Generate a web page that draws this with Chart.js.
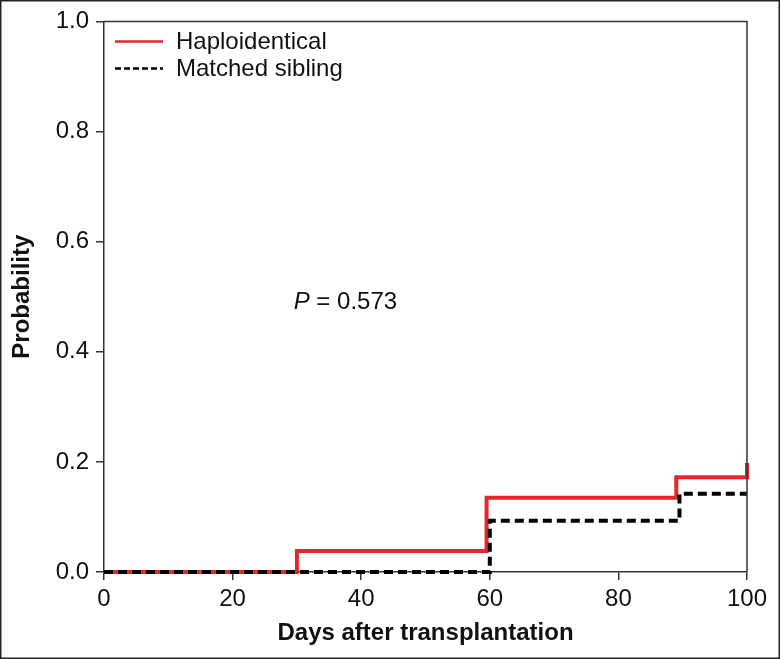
<!DOCTYPE html>
<html>
<head>
<meta charset="utf-8">
<script src="https://cdn.jsdelivr.net/npm/chart.js@4.4.1/dist/chart.umd.min.js"></script>
<style>
  html, body { margin: 0; padding: 0; background: #fff; }
  #wrap { width: 780px; height: 659px; position: relative; }
</style>
</head>
<body>
<div id="wrap"><canvas id="chart" width="780" height="659"></canvas></div>
<script>
// step points (day, probability)
const haploDays = [0, 30, 59.5, 89, 100];
const haploProb = [0, 0.038, 0.135, 0.172, 0.198];
const siblingDays = [0, 60, 89.5, 100];
const siblingProb = [0, 0.093, 0.142, 0.142];
const xTicks = [0, 20, 40, 60, 80, 100];
const yTicks = [0, 0.2, 0.4, 0.6, 0.8, 1.0];
const pLabel = "0.573";

const FONT = "'Liberation Sans', Arial, sans-serif";

function toPoints(xs, ys) {
  return xs.map((x, i) => ({ x: x, y: ys[i] }));
}

const extras = {
  id: "extras",
  afterDraw(chart) {
    const ctx = chart.ctx;
    const a = chart.chartArea;
    const xs = chart.scales.x;
    const ys = chart.scales.y;
    ctx.save();

    // plot box (top + right)
    ctx.strokeStyle = "#333";
    ctx.lineWidth = 1.5;
    ctx.beginPath();
    ctx.moveTo(a.left, a.top);
    ctx.lineTo(a.right, a.top);
    ctx.lineTo(a.right, a.bottom);
    ctx.stroke();

    // outer frame of the figure
    ctx.strokeStyle = "#222";
    ctx.strokeRect(0.75, 0.75, chart.width - 1.5, chart.height - 1.5);

    // legend
    const ds = chart.data.datasets;
    const legendStyles = [
      { color: "#e3272b", dash: [], width: 2.5 },
      { color: "#000", dash: [6, 3], width: 2.5 }
    ];
    ctx.font = "24px " + FONT;
    ctx.textBaseline = "middle";
    ctx.textAlign = "left";
    ds.forEach((d, i) => {
      const y = a.top + 20 + i * 27;
      const st = legendStyles[i];
      ctx.strokeStyle = st.color;
      ctx.lineWidth = st.width;
      ctx.setLineDash(st.dash);
      ctx.beginPath();
      ctx.moveTo(a.left + 11, y);
      ctx.lineTo(a.left + 59, y);
      ctx.stroke();
      ctx.setLineDash([]);
      ctx.fillStyle = "#111";
      ctx.fillText(d.label, a.left + 72, y + 1);
    });

    // P value annotation
    const px = xs.getPixelForValue(29.5);
    const py = ys.getPixelForValue(0.49);
    ctx.font = "italic 24px " + FONT;
    ctx.fillStyle = "#111";
    ctx.fillText("P", px, py);
    const w = ctx.measureText("P").width;
    ctx.font = "24px " + FONT;
    ctx.fillText(" = " + pLabel, px + w, py);

    ctx.restore();
  }
};

new Chart(document.getElementById("chart").getContext("2d"), {
  type: "line",
  data: {
    datasets: [
      {
        label: "Haploidentical",
        data: toPoints(haploDays, haploProb),
        borderColor: "#e3272b",
        borderWidth: 4,
        stepped: true,
        pointRadius: 0,
        fill: false,
        clip: false,
        order: 1
      },
      {
        label: "Matched sibling",
        data: toPoints(siblingDays, siblingProb),
        borderColor: "#000",
        borderWidth: 4,
        borderDash: [9, 5],
        stepped: true,
        pointRadius: 0,
        fill: false,
        clip: false,
        order: 0
      }
    ]
  },
  options: {
    responsive: false,
    animation: false,
    layout: { padding: { left: 0, top: 21, right: 33, bottom: 0 } },
    plugins: {
      legend: { display: false },
      tooltip: { enabled: false }
    },
    scales: {
      x: {
        type: "linear",
        min: 0,
        max: 100,
        afterFit: s => { s.height = 87; },
        afterBuildTicks: s => { s.ticks = xTicks.map(v => ({ value: v })); },
        grid: { drawOnChartArea: false, drawTicks: true, tickLength: 8, color: "#333", lineWidth: 1.5 },
        border: { color: "#333", width: 1.5 },
        ticks: {
          color: "#111",
          font: { family: FONT, size: 24 },
          padding: 5,
          maxRotation: 0
        },
        title: {
          display: true,
          text: "Days after transplantation",
          color: "#111",
          font: { family: FONT, size: 24, weight: "bold" },
          padding: { top: 4, bottom: 11 }
        }
      },
      y: {
        type: "linear",
        min: 0,
        max: 1,
        afterFit: s => { s.width = 104; },
        afterBuildTicks: s => { s.ticks = yTicks.map(v => ({ value: v })); },
        grid: { drawOnChartArea: false, drawTicks: true, tickLength: 8, color: "#333", lineWidth: 1.5 },
        border: { color: "#333", width: 1.5 },
        ticks: {
          color: "#111",
          font: { family: FONT, size: 24 },
          padding: 7,
          callback: v => v.toFixed(1)
        },
        title: {
          display: true,
          text: "Probability",
          color: "#111",
          font: { family: FONT, size: 24, weight: "bold" },
          padding: { top: 8, bottom: 4 }
        }
      }
    }
  },
  plugins: [extras]
});
</script>
</body>
</html>
